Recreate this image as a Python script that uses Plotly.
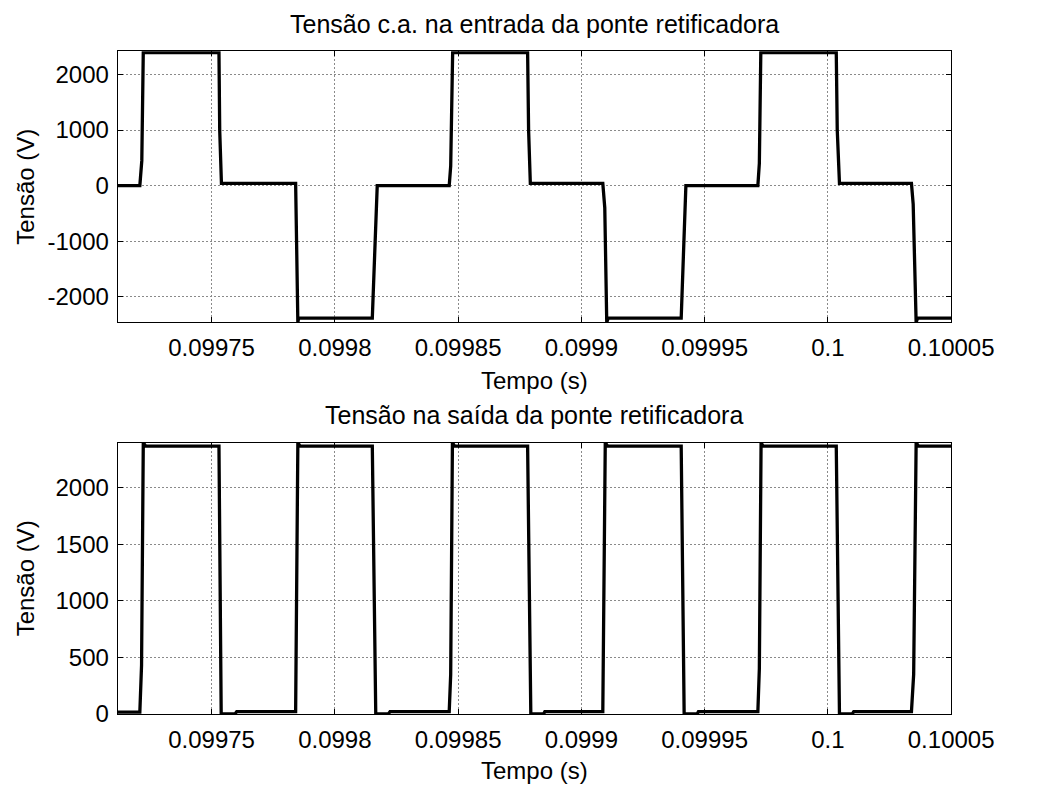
import plotly.graph_objects as go

# ---------------- data ----------------
# Input AC voltage of the rectifier bridge (time in s, voltage in V)
t_in = [0.0997119, 0.0997209, 0.0997217, 0.0997223, 0.0997229, 0.0997530, 0.0997533, 0.0997540,
        0.0997841, 0.0997850, 0.0997853, 0.0998152, 0.0998172,
        0.0998464, 0.0998470, 0.0998478, 0.0998484, 0.0998782, 0.0998786, 0.0998793,
        0.0999087, 0.0999095, 0.0999103, 0.0999109, 0.0999405, 0.0999424,
        0.0999716, 0.0999722, 0.0999728, 0.0999733, 0.1000034, 0.1000038, 0.1000047,
        0.1000339, 0.1000346, 0.1000358, 0.1000364, 0.1000500]
v_in = [0, 0, 450, 2420, 2396, 2396, 1000, 40,
        40, -2460, -2382, -2382, 0,
        0, 350, 2420, 2396, 2396, 1000, 40,
        40, -400, -2460, -2382, -2382, 0,
        0, 400, 2420, 2396, 2396, 1000, 40,
        40, -330, -2460, -2382, -2382]

# Output (rectified) voltage of the bridge
t_out = [0.0997119, 0.0997209, 0.0997216, 0.0997223, 0.0997233, 0.0997530, 0.0997539,
         0.0997595, 0.0997602, 0.0997841, 0.0997850, 0.0997859, 0.0998152, 0.0998166,
         0.0998217, 0.0998224, 0.0998464, 0.0998470, 0.0998477, 0.0998486, 0.0998782, 0.0998795,
         0.0998847, 0.0998852, 0.0999087, 0.0999097, 0.0999107, 0.0999405, 0.0999417,
         0.0999470, 0.0999475, 0.0999716, 0.0999722, 0.0999729, 0.0999737, 0.1000034, 0.1000047,
         0.1000099, 0.1000105, 0.1000339, 0.1000348, 0.1000358, 0.1000368, 0.1000500]
v_out = [15, 15, 430, 2400, 2369, 2369, 0,
         0, 20, 20, 2400, 2369, 2369, 0,
         0, 20, 20, 350, 2400, 2369, 2369, 0,
         0, 20, 20, 2400, 2369, 2369, 0,
         0, 20, 20, 400, 2400, 2369, 2369, 0,
         0, 20, 20, 350, 2400, 2369, 2369]

x_ticks = [0.09975, 0.0998, 0.09985, 0.0999, 0.09995, 0.1, 0.10005]
x_ticklabels = ["0.09975", "0.0998", "0.09985", "0.0999", "0.09995", "0.1", "0.10005"]
y_ticks_in = [-2000, -1000, 0, 1000, 2000]
y_ticks_out = [0, 500, 1000, 1500, 2000]

title_in = "Tensão c.a. na entrada da ponte retificadora"
title_out = "Tensão na saída da ponte retificadora"
x_label = "Tempo (s)"
y_label = "Tensão (V)"

# ---------------- figure ----------------
W, H = 1044, 799
FONT = "Liberation Sans, Arial, sans-serif"
TICK_SIZE = 24
LABEL_SIZE = 24
TITLE_SIZE = 25

def py(pixel_y):
    return 1 - pixel_y / H

xdom = [122.7 / W, 992 / W]

fig = go.Figure()
fig.add_trace(go.Scatter(x=t_in, y=v_in, mode="lines",
                         line=dict(color="black", width=3.3),
                         xaxis="x", yaxis="y", showlegend=False))
fig.add_trace(go.Scatter(x=t_out, y=v_out, mode="lines",
                         line=dict(color="black", width=3.3),
                         xaxis="x2", yaxis="y2", showlegend=False))

common = dict(showline=True, linecolor="black", linewidth=1, mirror="allticks",
              ticks="inside", ticklen=5, tickcolor="black", tickwidth=1,
              showgrid=True, gridcolor="#8a8a8a", griddash="2px,2px", gridwidth=1,
              zeroline=False,
              tickfont=dict(family=FONT, size=TICK_SIZE, color="black"))

xr = [0.0997119, 0.10005]
fig.update_layout(
    width=W, height=H,
    margin=dict(l=0, r=0, t=0, b=0),
    paper_bgcolor="white", plot_bgcolor="white",
    xaxis=dict(domain=xdom, range=xr, anchor="y", tickvals=x_ticks, ticktext=x_ticklabels,
               ticklabelstandoff=4, **common),
    yaxis=dict(domain=[py(327.7), py(52)], range=[-2460, 2420], anchor="x",
               tickvals=y_ticks_in, ticktext=[str(v) for v in y_ticks_in],
               ticklabelstandoff=3, **common),
    xaxis2=dict(domain=xdom, range=xr, anchor="y2", tickvals=x_ticks, ticktext=x_ticklabels,
                ticklabelstandoff=4, **common),
    yaxis2=dict(domain=[py(725.7), py(450)], range=[0, 2400], anchor="x2",
                tickvals=y_ticks_out, ticktext=[str(v) for v in y_ticks_out],
                ticklabelstandoff=3, **common),
)

xc = (xdom[0] + xdom[1]) / 2
ann = []
ann.append(dict(text=title_in, x=xc, y=py(24.4), xref="paper", yref="paper",
                xanchor="center", yanchor="middle", showarrow=False,
                font=dict(family=FONT, size=TITLE_SIZE, color="black")))
ann.append(dict(text=title_out, x=xc, y=py(421.4), xref="paper", yref="paper",
                xanchor="center", yanchor="middle", showarrow=False,
                font=dict(family=FONT, size=TITLE_SIZE, color="black")))
ann.append(dict(text=x_label, x=xc, y=py(387), xref="paper", yref="paper",
                xanchor="center", yanchor="middle", showarrow=False,
                font=dict(family=FONT, size=LABEL_SIZE, color="black")))
ann.append(dict(text=x_label, x=xc, y=py(783), xref="paper", yref="paper",
                xanchor="center", yanchor="middle", showarrow=False,
                font=dict(family=FONT, size=LABEL_SIZE, color="black")))
ann.append(dict(text=y_label, x=27 / W, y=py(190), xref="paper", yref="paper",
                xanchor="center", yanchor="middle", showarrow=False, textangle=-90,
                font=dict(family=FONT, size=LABEL_SIZE, color="black")))
ann.append(dict(text=y_label, x=27 / W, y=py(588), xref="paper", yref="paper",
                xanchor="center", yanchor="middle", showarrow=False, textangle=-90,
                font=dict(family=FONT, size=LABEL_SIZE, color="black")))
fig.update_layout(annotations=ann)

fig.write_html("out.html")
